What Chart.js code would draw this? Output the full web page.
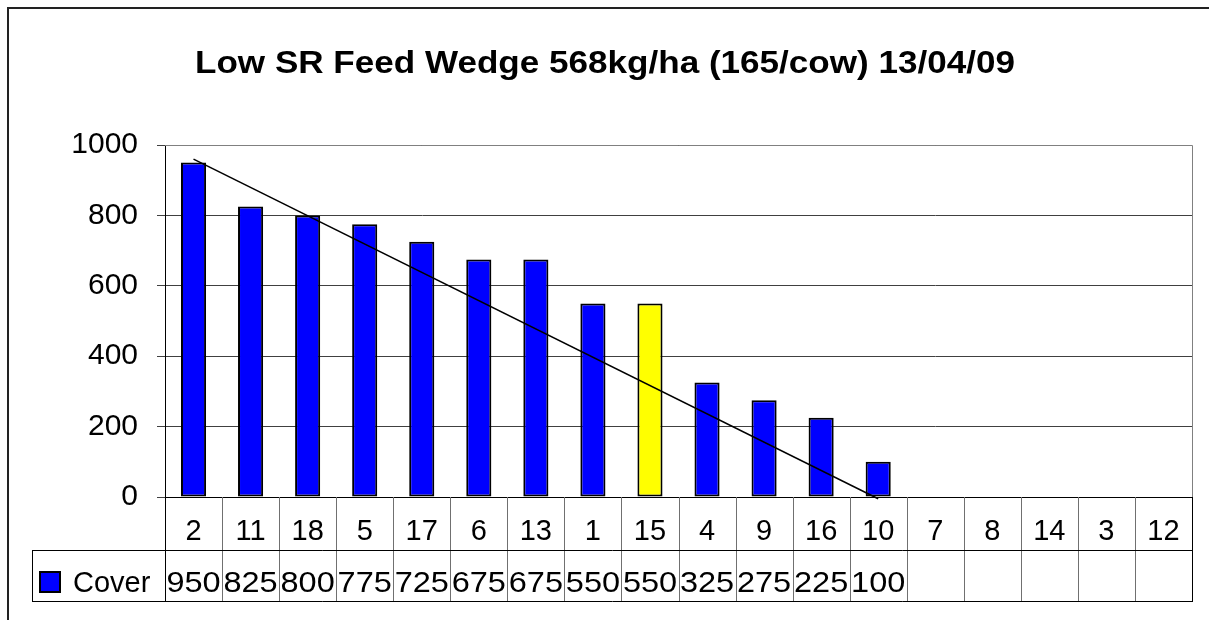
<!DOCTYPE html>
<html>
<head>
<meta charset="utf-8">
<script src="https://cdn.jsdelivr.net/npm/chart.js@4"></script>
<style>
  body { margin: 0; background: #fff; }
  #wrap { width: 1209px; height: 620px; position: relative; }
</style>
</head>
<body>
<div id="wrap"><canvas id="myChart"></canvas></div>
<script>
const paddocks = ["2", "11", "18", "5", "17", "6", "13", "1", "15", "4", "9", "16", "10", "7", "8", "14", "3", "12"];
const cover = [950, 825, 800, 775, 725, 675, 675, 550, 550, 325, 275, 225, 100, null, null, null, null, null];
// target wedge line (start and end only)
const wedge = [960, null, null, null, null, null, null, null, null, null, null, null, -5, null, null, null, null, null];
const yTicks = [0, 200, 400, 600, 800, 1000];
const seriesName = "Cover";
const titleText = "Low SR Feed Wedge 568kg/ha (165/cow) 13/04/09";

const FONT = "'Liberation Sans', Arial, sans-serif";

const barColors = paddocks.map(p => p === "15" ? "#ffff00" : "#0000ff");

// draws title, frame, plot border and the data table under the axis
const tablePlugin = {
    id: "tablePlugin",
    afterDraw(chart) {
        const ctx = chart.ctx;
        const area = chart.chartArea;
        const n = paddocks.length;
        const catW = (area.right - area.left) / n;
        const row1 = area.bottom + 53;
        const row2 = row1 + 51;
        const legLeft = 32;

        ctx.save();
        // outer frame
        ctx.strokeStyle = "#222";
        ctx.lineWidth = 2;
        ctx.strokeRect(8, 8, 1300, 1300);

        // title (slightly stretched like the original)
        ctx.fillStyle = "#000";
        ctx.font = "bold 32px " + FONT;
        ctx.textAlign = "center";
        ctx.textBaseline = "alphabetic";
        ctx.save();
        ctx.translate(605, 73);
        ctx.scale(1.096, 1);
        ctx.fillText(titleText, 0, 0);
        ctx.restore();

        // plot area border (top/right)
        ctx.lineWidth = 1;
        ctx.strokeStyle = "#808080";
        ctx.beginPath();
        ctx.moveTo(area.left, area.top + 0.5);
        ctx.lineTo(area.right + 0.5, area.top + 0.5);
        ctx.lineTo(area.right + 0.5, area.bottom);
        ctx.stroke();

        // vertical dividers
        ctx.strokeStyle = "#707070";
        for (let i = 1; i < n; i++) {
            const x = Math.round(area.left + i * catW) + 0.5;
            ctx.beginPath();
            ctx.moveTo(x, area.bottom);
            ctx.lineTo(x, row2);
            ctx.stroke();
        }
        ctx.strokeStyle = "#000";
        ctx.beginPath();
        ctx.moveTo(area.left + 0.5, area.bottom);
        ctx.lineTo(area.left + 0.5, row2);
        ctx.moveTo(area.right + 0.5, area.bottom);
        ctx.lineTo(area.right + 0.5, row2);
        ctx.moveTo(legLeft + 0.5, row1);
        ctx.lineTo(legLeft + 0.5, row2);
        ctx.moveTo(legLeft, row1 + 0.5);
        ctx.lineTo(area.right + 1, row1 + 0.5);
        ctx.moveTo(legLeft, row2 + 0.5);
        ctx.lineTo(area.right + 1, row2 + 0.5);
        ctx.stroke();

        // legend key
        ctx.fillStyle = "#0000ff";
        ctx.fillRect(40, row1 + 22, 20, 20);
        ctx.strokeStyle = "#000";
        ctx.lineWidth = 2;
        ctx.strokeRect(40, row1 + 22, 20, 20);

        ctx.fillStyle = "#000";
        ctx.font = "29px " + FONT;
        ctx.textBaseline = "alphabetic";
        ctx.textAlign = "left";
        ctx.fillText(seriesName, 73, row1 + 42);

        // values row
        const xs = chart.scales.x;
        ctx.textAlign = "center";
        cover.forEach((v, i) => {
            if (v === null) return;
            const cx = xs.getPixelForValue(i);
            ctx.save();
            ctx.translate(cx, row1 + 42);
            ctx.scale(1.12, 1);
            ctx.fillText(String(v), 0, 0);
            ctx.restore();
        });
        ctx.restore();
    }
};

const config = {
    data: {
        labels: paddocks,
        datasets: [
            {
                type: "line",
                label: "wedge",
                data: wedge,
                spanGaps: true,
                borderColor: "#000",
                borderWidth: 1.5,
                pointRadius: 0,
                tension: 0,
                clip: false,
                order: 0
            },
            {
                type: "bar",
                label: seriesName,
                data: cover,
                backgroundColor: barColors,
                borderColor: "#000",
                borderWidth: 2,
                borderSkipped: false,
                categoryPercentage: 1,
                barPercentage: 0.44,
                order: 1
            }
        ]
    },
    options: {
        responsive: true,
        maintainAspectRatio: false,
        animation: false,
        layout: { padding: { left: 0, right: 17, top: 145, bottom: 70 } },
        plugins: {
            legend: { display: false },
            tooltip: { enabled: false },
            title: { display: false }
        },
        scales: {
            x: {
                grid: { display: false },
                border: { display: true, color: "#000", width: 1 },
                ticks: { color: "#000", font: { family: FONT, size: 29 }, padding: 10, maxRotation: 0, autoSkip: false },
                afterFit: s => { s.height = 53; }
            },
            y: {
                min: 0,
                max: 1000,
                afterBuildTicks: s => { s.ticks = yTicks.map(v => ({ value: v })); },
                grid: { color: "#404040", lineWidth: 1, tickLength: 8 },
                border: { display: true, color: "#000", width: 1 },
                ticks: { color: "#000", font: { family: FONT, size: 30 }, padding: 19, callback: v => String(v) },
                afterFit: s => { s.width = 165; }
            }
        }
    },
    plugins: [tablePlugin]
};

new Chart(document.getElementById("myChart"), config);
</script>
</body>
</html>
